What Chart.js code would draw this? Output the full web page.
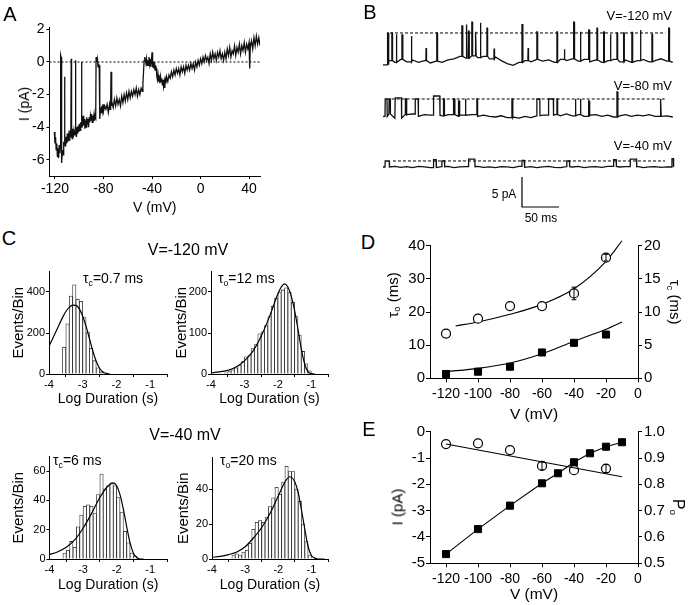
<!DOCTYPE html>
<html>
<head>
<meta charset="utf-8">
<script src="https://cdn.jsdelivr.net/npm/chart.js@4.4.0/dist/chart.umd.min.js"></script>
<style>
html, body { margin: 0; padding: 0; background: #fff; }
#fig { position: relative; width: 691px; height: 605px; overflow: hidden; font-family: "Liberation Sans", Arial, sans-serif; color: #000; }
#fig canvas { position: absolute; }
.lbl { position: absolute; white-space: nowrap; line-height: 1; }
sub { font-size: 0.62em; vertical-align: -0.3em; line-height: 0; }
</style>
</head>
<body>
<div id="fig"></div>
<script>
// ---- Panel A : ramp current (mV, pA) ----
const rampTrace = [
  [-120.5,-4.3],[-120,-5.0],[-119.5,-4.6],[-119,-5.4],[-118.5,-5.0],[-118,-5.8],[-117.5,-5.3],[-117,-5.9],[-116.5,-5.1],[-116,-5.6],
  [-115.6,-5.2],[-115.3,0.4],[-115,0.3],[-114.7,-5.8],[-114.3,-6.2],[-113.8,-5.4],[-113.3,-5.7],[-112.8,-4.9],
  [-112.4,-5.1],[-112.1,-0.9],[-111.8,-4.8],[-111.3,-5.2],[-110.8,-4.6],[-110.3,-5.0],[-109.8,-4.4],[-109.3,-4.9],
  [-108.8,-4.5],[-108.3,-4.8],[-107.8,-4.2],[-107.3,-4.6],[-106.9,-4.4],[-106.6,0.2],[-106.3,-4.3],[-105.8,-4.7],
  [-105.3,-4.1],[-104.8,-4.6],[-104.3,-4.2],[-103.8,-4.5],[-103.4,-4.3],[-103.1,0.1],[-102.8,-4.2],[-102.3,-4.6],
  [-101.8,-4.0],[-101.3,-4.4],[-100.8,-3.9],[-100.3,-4.3],[-99.8,-3.8],[-99.3,-4.2],[-98.8,-3.7],[-98.4,-4.0],
  [-98.1,0.0],[-97.8,-3.6],[-97.3,-3.8],[-96.8,-3.3],[-96.3,-3.9],[-95.8,-3.5],[-95.3,-4.1],[-94.8,-3.6],[-94.3,-4.0],
  [-93.8,-3.4],[-93.3,-3.8],[-92.8,-3.5],[-92.3,-4.0],[-91.8,-3.4],[-91.3,-3.7],[-90.8,-3.3],[-90.3,-3.6],[-89.8,-3.2],
  [-89.3,-3.7],[-88.8,-3.3],[-88.3,-3.5],[-87.8,-3.2],[-87.3,-3.6],[-86.8,-3.3],[-86.4,-3.4],[-86.1,0.3],[-85.5,0.0],
  [-85,0.2],[-84.5,-0.3],[-84,-0.1],[-83.5,-0.4],[-83.2,-0.2],[-82.9,-3.5],[-82.4,-2.8],[-81.9,-3.1],[-81.4,-2.7],
  [-80.9,-3.0],[-80.4,-2.6],[-79.9,-3.0],[-79,-2.7],[-78,-2.9],[-77,-2.6],[-76,-3.1],[-75,-2.6],[-74.5,-2.9],
  [-74.1,-2.8],[-73.8,-0.6],[-73.5,-2.7],[-73,-2.4],[-72,-2.8],[-71,-2.3],[-70,-2.7],[-69,-2.2],[-68,-2.6],[-67,-2.3],
  [-66,-2.7],[-65,-2.1],[-64,-2.5],[-63,-2.0],[-62,-2.4],[-61,-1.9],[-60,-2.3],[-59,-1.8],[-58,-2.2],[-57,-1.8],
  [-56,-2.1],[-55,-1.7],[-54,-2.0],[-53,-1.6],[-52,-2.1],[-51,-1.7],[-50,-2.0],[-49,-1.6],[-48,-1.8],[-47.5,-1.3],
  [-47,-0.6],[-46.5,0.1],[-46,0.3],[-45,-0.1],[-44.5,0.2],[-44,-0.2],[-43.5,0.1],[-43,-0.2],[-42.5,0.3],[-42,-0.1],
  [-41.5,0.2],[-41,-0.3],[-40.5,0.0],[-40,0.6],[-39.5,-0.2],[-39,-0.1],[-38.5,-0.4],[-38,0.0],[-37.5,-0.5],[-37,-0.2],
  [-36.5,-0.4],[-36,-0.9],[-35.5,-1.1],[-35,-0.8],[-34.5,-1.2],[-34,-1.0],[-33.5,-1.3],[-33,-0.9],[-32.5,-1.2],
  [-32,-1.0],[-31.5,-1.4],[-31,-1.1],[-30.5,-1.5],[-30,-1.2],[-29.5,-1.6],[-29,-1.1],[-28.5,-1.3],[-28,-0.9],
  [-27,-1.2],[-26,-0.8],[-25,-1.0],[-24,-0.6],[-23,-0.9],[-22,-0.5],[-21,-0.8],[-20,-0.4],[-19,-0.7],[-18,-0.4],
  [-17,-0.8],[-16,-0.3],[-15,-0.6],[-14,-0.3],[-13,-0.7],[-12,-0.2],[-11,-0.5],[-10,-0.2],[-9,-0.5],[-8,-0.1],
  [-7,-0.4],[-6,-0.1],[-5,-0.5],[-4,0.0],[-3,-0.3],[-2,0.1],[-1,-0.2],[0,0.2],[1,-0.1],[2,0.3],[3,0.0],[4,0.4],
  [5,0.1],[6,0.3],[7,-0.1],[8,0.5],[9,0.1],[10,0.6],[11,0.2],[12,0.5],[13,0.1],[14,0.6],[15,0.3],[16,0.7],[17,0.2],
  [18,0.5],[19,0.1],[20,0.6],[21,0.2],[22,0.8],[23,0.4],[24,0.9],[25,0.3],[26,0.7],[27,0.5],[28,1.0],[29,0.4],
  [30,0.9],[31,0.6],[32,1.1],[33,0.5],[34,1.0],[35,0.7],[36,1.2],[37,0.6],[38,1.1],[39,0.8],[40,1.2],[40.5,-0.4],
  [41,0.9],[42,1.3],[43,0.8],[44,1.5],[45,1.0],[46,1.6],[47,1.1],[48,1.5],[49,1.0]
];
const aXTicks = [-120, -80, -40, 0, 40];
const aYTicks = [-6, -4, -2, 0, 2];

// ---- Panel B : single channel records, baseline every 8 ms (pA) + openings [start ms, length ms, level pA] ----
const b1Base = [-5.3,-4.6,-4.9,-4.4,-4.8,-4.5,-4.9,-4.6,-5.0,-4.7,-4.9,-4.5,-4.3,-3.9,-4.2,-3.8,-4.1,-3.9,-4.3,-4.0,
  -4.6,-5.1,-5.4,-4.9,-4.6,-4.8,-4.4,-4.7,-4.5,-4.9,-4.4,-4.6,-4.3,-4.7,-4.4,-4.8,-4.5,-4.9,-4.6,-4.4,
  -4.8,-4.5,-4.9,-4.6,-4.4,-4.8,-4.6,-4.3,-4.7,-4.9];
const b1Open = [[5.9,1.5,0],[11.7,1.2,0],[17.6,1.2,-0.2],[25.3,1.5,-0.3],[37.9,1.2,-0.5],[58,1,-2.5],[72.6,1.2,0],
  [106.4,1.5,1.2],[112.3,1.5,1.4],[115.5,1.2,0.3],[120,1.2,1.8],[124.5,1.5,0.2],[131.3,1.2,1.7],[140.3,1.2,0.8],
  [150,1,-2.6],[187.7,1.5,1.4],[196,1,-2.5],[208,1.2,0.2],[235,1.2,0.2],[245,1,-2.7],[257.6,1.5,1.8],[266.6,1.2,0.2],
  [277.9,1.2,0.5],[289.1,1.2,0.8],[298.2,1.2,0.2],[307.2,1.2,-0.2],[316.2,1.2,0],[325.2,1.2,0],[336.5,1.2,0.1],
  [347.8,1.2,0.5],[363.5,1.2,-0.2],[386.1,1.5,0.8]];
const b2Base = [-2.9,-2.5,-3.2,-2.6,-2.8,-2.5,-2.9,-2.6,-2.7,-2.4,-2.8,-2.6,-2.9,-2.7,-2.8,-2.6,-2.9,-2.7,-2.9,-3.0,
  -2.8,-3.1,-3.0,-3.2,-2.9,-3.1,-2.8,-2.7,-2.9,-2.6,-2.8,-2.5,-2.8,-2.6,-2.9,-2.7,-2.6,-2.9,-2.7,-3.0,
  -2.8,-2.6,-2.9,-2.7,-2.8,-2.6,-2.9,-2.7,-2.8,-3.0];
const b2Open = [[2.7,3,0],[8,2,0],[16.2,9,0.2],[30,2,0],[43.3,4.5,0],[68.1,9,0.5],[81.6,1.5,0],[95.2,2,0],
  [101.9,1.5,-0.3],[111,1.2,0],[126.7,1.2,0],[174.1,1.5,0],[208,4.4,0],[223.7,7,0],[235,1.2,0],[259.8,1.2,0],
  [266.6,1.2,0],[277.9,1.2,-0.3],[316.2,1.5,1.2],[374.8,1.5,0]];
const b3Base = [-1.0,-1.1,-0.9,-1.05,-0.95,-1.1,-0.9,-1.0,-1.1,-0.95,-1.05,-0.9,-1.1,-1.0,-0.95,-1.1,-0.9,-1.05,-1.0,-1.1,
  -0.95,-1.0,-1.1,-0.9,-1.05,-0.95,-1.1,-1.0,-0.9,-1.05,-1.1,-0.95,-1.0,-0.9,-1.1,-1.0,-0.95,-1.05,-0.9,-1.1,
  -1.0,-0.95,-1.05,-0.9,-1.1,-1.0,-0.95,-1.05,-1.0,-0.9];
const b3Open = [[2.7,6,0],[68.1,4,0.2],[79.4,4,0],[115.5,9,0.3],[187.7,3.5,0.1],[248.5,4,0],[311.7,4,0.2],
  [334.2,9,0.3],[390.6,2.5,0.4]];
const bOffsets = [0, -11, -21.33];          // vertical placement of the three records (pA)
const bDashStart = [9.5, 5, 13.5];
const bDashEnd = [382, 381.6, 381.6];
const bScaleBar = [[188, -24], [188, -29], [238, -29]];   // 5 pA, 50 ms

// ---- Panel C : dwell time histograms (log s, events/bin) ----
const c1Bins = [-3.55,-3.45,-3.35,-3.25,-3.15,-3.05,-2.95,-2.85,-2.75,-2.65,-2.55,-2.45];
const c1Counts = [130,245,380,435,365,355,275,205,125,65,30,10];
const c1FitX = [-4,-3.9,-3.8,-3.7,-3.6,-3.5,-3.4,-3.3,-3.2,-3.1,-3.0,-2.9,-2.8,-2.7,-2.6,-2.5,-2.4,-2.3,-2.2];
const c1FitY = [135,170,205,240,275,305,325,336,335,318,282,232,172,112,62,28,10,3,0];

const c2Bins = [-3.55,-3.45,-3.35,-3.25,-3.15,-3.05,-2.95,-2.85,-2.75,-2.65,-2.55,-2.45,-2.35,-2.25,-2.15,-2.05,
  -1.95,-1.85,-1.75,-1.65,-1.55,-1.45,-1.35,-1.25,-1.15,-1.05];
const c2Counts = [3,6,10,15,22,30,42,45,62,72,98,103,118,140,165,185,200,205,210,200,175,140,95,55,25,8];
const c2FitX = [-4,-3.75,-3.5,-3.25,-3.0,-2.75,-2.5,-2.25,-2.0,-1.9,-1.8,-1.7,-1.6,-1.5,-1.4,-1.3,-1.2,-1.1,-1.0,-0.9];
const c2FitY = [3,5,9,17,32,55,92,140,195,212,220,212,190,155,110,62,25,6,1,0];

const c3Bins = [-3.55,-3.45,-3.35,-3.25,-3.15,-3.05,-2.95,-2.85,-2.75,-2.65,-2.55,-2.45,-2.35,-2.25,-2.15,-2.05,
  -1.95,-1.85,-1.75,-1.65,-1.55,-1.45];
const c3Counts = [4,6,12,8,22,30,36,37,36,31,44,58,48,50,52,50,42,32,19,11,4,2];
const c3FitX = [-4,-3.75,-3.5,-3.25,-3.0,-2.75,-2.5,-2.25,-2.1,-2.0,-1.9,-1.8,-1.7,-1.6,-1.5,-1.4,-1.3,-1.2];
const c3FitY = [3,5,8,13,21,31,42,50,52,50,44,34,22,11,4,1,0,0];

const c4Bins = [-3.35,-3.25,-3.15,-3.05,-2.95,-2.85,-2.75,-2.65,-2.55,-2.45,-2.35,-2.25,-2.15,-2.05,-1.95,-1.85,
  -1.75,-1.65,-1.55,-1.45,-1.35,-1.25,-1.15,-1.05];
const c4Counts = [2,3,2,4,5,9,17,21,22,21,24,30,35,41,37,44,53,50,50,40,33,20,10,2];
const c4FitX = [-4,-3.75,-3.5,-3.25,-3.0,-2.75,-2.5,-2.25,-2.0,-1.8,-1.65,-1.5,-1.4,-1.3,-1.2,-1.1,-1.0,-0.9,-0.8,-0.6];
const c4FitY = [1,1.5,2.5,4,7,12,18,26,36,44,47,44,38,28,17,7,2,0.5,0,0];
const cXTicks = [-4, -3, -2, -1];

// ---- Panel D : open / closed time constants vs voltage ----
const dV = [-120, -100, -80, -60, -40, -20];
const dTauO = [13.5, 18, 21.8, 21.8, 25.6, 36.4];
const dTauC = [0.65, 1.0, 1.75, 3.9, 5.35, 6.6];
const dTauOErr = [0, 0, 0, 0, 1.9, 1.0];
const dFitOV = [-114, -100, -80, -60, -40, -20, -10];
const dFitO = [15.8, 17, 19.3, 22.3, 27, 35.3, 41.5];
const dFitCV = [-120, -100, -80, -60, -40, -20, -10];
const dFitC = [1.0, 1.5, 2.3, 3.7, 5.6, 7.4, 8.5];

// ---- Panel E : unitary current and open probability ----
const eIV = [-120, -100, -80, -60, -50, -40, -30, -20, -10];
const eI = [-4.65, -3.7, -2.81, -1.96, -1.58, -1.16, -0.82, -0.57, -0.40];
const ePoV = [-120, -100, -80, -60, -40, -20];
const ePo = [0.953, 0.956, 0.93, 0.87, 0.854, 0.86];
const ePoErr = [0, 0, 0, 0.015, 0, 0.015];
const ePoFitV = [-120, -10];
const ePoFit = [0.953, 0.829];
const vTicks = [-120, -100, -80, -60, -40, -20, 0];

Chart.defaults.font.family = '"Liberation Sans", Arial, sans-serif';
Chart.defaults.color = '#000';
Chart.defaults.animation = false;
Chart.defaults.responsive = false;
Chart.defaults.plugins.legend.display = false;
Chart.defaults.plugins.tooltip.enabled = false;

const fig = document.getElementById('fig');

function makeCanvas(x, y, w, h) {
  const c = document.createElement('canvas');
  c.width = w; c.height = h;
  c.style.left = x + 'px'; c.style.top = y + 'px';
  c.style.width = w + 'px'; c.style.height = h + 'px';
  fig.appendChild(c);
  return c;
}

function label(html, x, y, size, anchor, rot) {
  const d = document.createElement('div');
  d.className = 'lbl';
  d.innerHTML = html;
  d.style.fontSize = size + 'px';
  d.style.left = x + 'px';
  d.style.top = y + 'px';
  let tx = '-50%';
  if (anchor === 'l') tx = '0';
  if (anchor === 'r') tx = '-100%';
  d.style.transform = 'translate(' + tx + ',-50%)' + (rot ? ' rotate(' + rot + 'deg)' : '');
  fig.appendChild(d);
}

// axis with fixed size and hand-picked tick values
function axis(o) {
  const a = {
    type: 'linear', position: o.pos, min: o.min, max: o.max, offset: false,
    afterBuildTicks: s => { s.ticks = o.ticks.map(v => ({ value: v })); },
    afterFit: s => { if (o.pos === 'bottom') s.height = o.size; else s.width = o.size; },
    grid: { display: true, drawOnChartArea: false, drawTicks: true, tickLength: o.tl || 4, color: '#000', lineWidth: 1 },
    border: { display: true, color: '#000', width: 1 },
    ticks: { color: '#000', padding: o.pad, font: { size: o.font }, maxRotation: 0, minRotation: 0, autoSkip: false,
      callback: o.fmt || (v => String(v)) },
    title: { display: false }
  };
  if (o.title) {
    a.title = { display: true, text: o.title, color: '#000', font: { size: o.titleSize }, padding: o.titlePad };
  }
  return a;
}

function pts(xs, ys) { return xs.map((x, i) => ({ x: x, y: ys[i] })); }

function errBars(xs, ys, es, cap) {
  const out = [];
  xs.forEach((x, i) => {
    const e = es[i];
    if (!e) return;
    const y = ys[i];
    out.push({ x: x, y: y - e }, { x: x, y: y + e }, { x: x, y: null },
      { x: x - cap, y: y + e }, { x: x + cap, y: y + e }, { x: x, y: null },
      { x: x - cap, y: y - e }, { x: x + cap, y: y - e }, { x: x, y: null });
  });
  return out;
}

// ---------------- A ----------------
new Chart(makeCanvas(0, 0, 275, 220), {
  type: 'line',
  data: { datasets: [
    { data: rampTrace.map(p => ({ x: p[0], y: p[1] })), borderColor: '#111', borderWidth: 1.3, pointRadius: 0, tension: 0 },
    { data: [{ x: -124.5, y: 0 }, { x: 49, y: 0 }], borderColor: '#000', borderWidth: 1, borderDash: [2, 2], pointRadius: 0 }
  ] },
  options: {
    layout: { padding: { left: 0, top: 27.8, right: 15, bottom: 0 } },
    scales: {
      x: axis({ pos: 'bottom', min: -124.5, max: 49, ticks: aXTicks, size: 44, font: 14, pad: 2, tl: 3,
        title: 'V (mV)', titleSize: 14, titlePad: { top: 0, bottom: 3.6 } }),
      y: axis({ pos: 'left', min: -7, max: 2.1, ticks: aYTicks, size: 49.5, font: 14, pad: 2, tl: 3 })
    }
  }
});

// ---------------- B ----------------
function buildTrace(base, opens, off) {
  const out = [];
  base.forEach((b, i) => {
    const t = i * 8;
    if (!opens.some(o => t > o[0] && t < o[0] + o[1])) out.push({ x: t, y: b + off });
  });
  opens.forEach(o => {
    const b = base[Math.min(base.length - 1, Math.floor(o[0] / 8))] + off;
    out.push({ x: o[0], y: b }, { x: o[0] + 0.3, y: o[2] + off }, { x: o[0] + o[1] - 0.3, y: o[2] + off }, { x: o[0] + o[1], y: b });
  });
  return out.sort((p, q) => p.x - q.x);
}
const bTraces = [[b1Base, b1Open], [b2Base, b2Open], [b3Base, b3Open]];
const bSets = [];
bTraces.forEach((tr, k) => {
  bSets.push({ data: buildTrace(tr[0], tr[1], bOffsets[k]), borderColor: '#111', borderWidth: 1.3, pointRadius: 0, tension: 0 });
  bSets.push({ data: [{ x: bDashStart[k], y: bOffsets[k] }, { x: bDashEnd[k], y: bOffsets[k] }],
    borderColor: '#000', borderWidth: 1, borderDash: [3, 2], pointRadius: 0 });
});
bSets.push({ data: bScaleBar.map(p => ({ x: p[0], y: p[1] })), borderColor: '#000', borderWidth: 1.2, pointRadius: 0 });
new Chart(makeCanvas(340, 0, 351, 230), {
  type: 'line',
  data: { datasets: bSets },
  options: {
    layout: { padding: { left: 43, top: 10, right: 16, bottom: 20 } },
    scales: {
      x: { type: 'linear', display: false, min: 0, max: 395 },
      y: { type: 'linear', display: false, min: -29.5, max: 3.83 }
    }
  }
});

// ---------------- C ----------------
function histo(rect, area, bins, counts, fitX, fitY, ymax, yTicks, yTitleX, xTitleY) {
  const [cx, cy, cw, ch] = rect;
  new Chart(makeCanvas(cx, cy, cw, ch), {
    type: 'bar',
    data: { datasets: [
      { type: 'line', data: pts(fitX, fitY), borderColor: '#000', borderWidth: 1.2, pointRadius: 0,
        tension: 0.4, cubicInterpolationMode: 'monotone', order: 1 },
      { type: 'bar', data: pts(bins, counts), backgroundColor: '#fff', borderColor: '#222', borderWidth: 0.8,
        categoryPercentage: 1, barPercentage: 1, order: 2 }
    ] },
    options: {
      layout: { padding: { left: 0, top: area[1] - cy, right: cx + cw - area[2], bottom: 0 } },
      scales: {
        x: axis({ pos: 'bottom', min: -4, max: -0.5, ticks: cXTicks, size: cy + ch - area[3], font: 11, pad: 1, tl: 3,
          title: 'Log Duration (s)', titleSize: 14, titlePad: { top: 0, bottom: cy + ch - xTitleY - 8.4 } }),
        y: axis({ pos: 'left', min: 0, max: ymax, ticks: yTicks, size: area[0] - cx, font: 11, pad: 1, tl: 3,
          title: 'Events/Bin', titleSize: 15, titlePad: { top: yTitleX - cx - 9, bottom: 0 } })
      }
    }
  });
}
histo([0, 262, 172, 148], [49, 271.5, 167, 374], c1Bins, c1Counts, c1FitX, c1FitY, 500, [0, 200, 400], 19, 399);
histo([170, 262, 165, 148], [211, 271.5, 328, 374], c2Bins, c2Counts, c2FitX, c2FitY, 250, [0, 100, 200], 182, 399);
histo([0, 448, 172, 148], [49.5, 456.5, 167, 559], c3Bins, c3Counts, c3FitX, c3FitY, 70, [0, 20, 40, 60], 19, 585);
histo([170, 448, 165, 148], [212, 457.5, 328, 559], c4Bins, c4Counts, c4FitX, c4FitY, 58, [0, 20, 40], 184, 585);

// ---------------- D ----------------
new Chart(makeCanvas(380, 232, 311, 193), {
  type: 'line',
  data: { datasets: [
    { data: errBars(dV, dTauO, dTauOErr, 1.5), yAxisID: 'y', borderColor: '#000', borderWidth: 1, pointRadius: 0, spanGaps: false },
    { data: pts(dV, dTauO), yAxisID: 'y', showLine: false, pointStyle: 'circle', pointRadius: 4.5,
      pointBackgroundColor: '#fff', pointBorderColor: '#000', pointBorderWidth: 1.2 },
    { data: pts(dFitOV, dFitO), yAxisID: 'y', borderColor: '#000', borderWidth: 1.1, pointRadius: 0,
      tension: 0.4, cubicInterpolationMode: 'monotone', clip: false },
    { data: pts(dV, dTauC), yAxisID: 'y2', showLine: false, pointStyle: 'rect', pointRadius: 5,
      pointBackgroundColor: '#000', pointBorderColor: '#000', pointBorderWidth: 1 },
    { data: pts(dFitCV, dFitC), yAxisID: 'y2', borderColor: '#000', borderWidth: 1.1, pointRadius: 0,
      tension: 0.4, cubicInterpolationMode: 'monotone', clip: false }
  ] },
  options: {
    layout: { padding: { left: 0, top: 13.7, right: 0, bottom: 0 } },
    scales: {
      x: axis({ pos: 'bottom', min: -130, max: 0, ticks: vTicks, size: 46.7, font: 14, pad: 3, tl: 4,
        title: 'V (mV)', titleSize: 15.5, titlePad: { top: 0, bottom: 0.7 } }),
      y: axis({ pos: 'left', min: 0, max: 40, ticks: [0, 10, 20, 30, 40], size: 50, font: 15, pad: 1, tl: 4 }),
      y2: axis({ pos: 'right', min: 0, max: 20, ticks: [0, 5, 10, 15, 20], size: 53, font: 15, pad: 2, tl: 4 })
    }
  }
});

// ---------------- E ----------------
new Chart(makeCanvas(380, 420, 311, 185), {
  type: 'line',
  data: { datasets: [
    { data: pts(ePoFitV, ePoFit), yAxisID: 'y2', borderColor: '#000', borderWidth: 1.1, pointRadius: 0 },
    { data: errBars(ePoV, ePo, ePoErr, 1.5), yAxisID: 'y2', borderColor: '#000', borderWidth: 1, pointRadius: 0, spanGaps: false },
    { data: pts(ePoV, ePo), yAxisID: 'y2', showLine: false, pointStyle: 'circle', pointRadius: 4.5,
      pointBackgroundColor: '#fff', pointBorderColor: '#000', pointBorderWidth: 1.2 },
    { data: pts(eIV, eI), yAxisID: 'y', borderColor: '#000', borderWidth: 1.1, tension: 0, pointStyle: 'rect',
      pointRadius: 5, pointBackgroundColor: '#000', pointBorderColor: '#000', pointBorderWidth: 1 }
  ] },
  options: {
    layout: { padding: { left: 0, top: 11.7, right: 0, bottom: 0 } },
    scales: {
      x: axis({ pos: 'bottom', min: -130, max: 0, ticks: vTicks, size: 41.7, font: 14, pad: 3, tl: 4,
        title: 'V (mV)', titleSize: 15.5, titlePad: { top: 0, bottom: 0.7 } }),
      y: axis({ pos: 'left', min: -5, max: 0, ticks: [-5, -4, -3, -2, -1, 0], size: 50, font: 15, pad: 1, tl: 4 }),
      y2: axis({ pos: 'right', min: 0.5, max: 1.0, ticks: [0.5, 0.6, 0.7, 0.8, 0.9, 1.0], size: 53, font: 15, pad: 2, tl: 4,
        fmt: v => v.toFixed(1) })
    }
  }
});

// ---------------- text ----------------
label('A', 10, 14, 20, 'c');
label('B', 370, 12, 20, 'c');
label('C', 9, 238, 20, 'c');
label('D', 368, 242, 20, 'c');
label('E', 369, 429, 20, 'c');

label('I (pA)', 24, 104, 14, 'c', -90);

label('V=-120 mV', 672, 15, 13, 'r');
label('V=-80 mV', 672, 85, 13, 'r');
label('V=-40 mV', 672, 145, 13, 'r');
label('5 pA', 504, 194, 12, 'c');
label('50 ms', 541, 218, 12, 'c');

label('V=-120 mV', 188, 250, 16, 'c');
label('V=-40 mV', 185, 435, 16, 'c');
label('&tau;<sub>c</sub>=0.7 ms', 83, 278, 14, 'l');
label('&tau;<sub>o</sub>=12 ms', 218, 278, 14, 'l');
label('&tau;<sub>c</sub>=6 ms', 53, 460, 14, 'l');
label('&tau;<sub>o</sub>=20 ms', 220, 460, 14, 'l');

label('&tau;<sub>o</sub> (ms)', 392, 295, 15, 'c', -90);
label('&tau;<sub>c</sub> (ms)', 675, 302, 15, 'c', 90);
label('I (pA)', 397, 507, 15, 'c', -90);
label('P<sub>o</sub>', 678, 507, 16, 'c', 90);
</script>
</body>
</html>
